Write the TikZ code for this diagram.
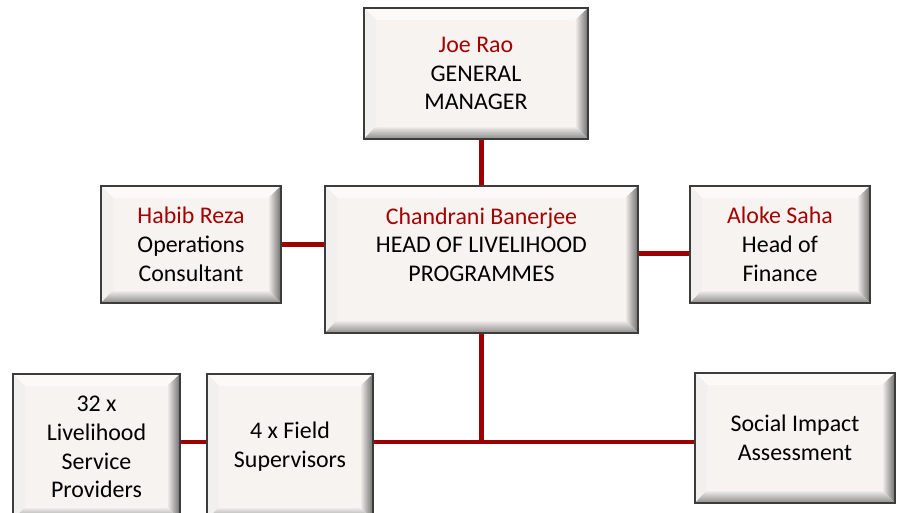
\documentclass[tikz,border=0pt]{standalone}
\usepackage{fontspec}
\setmainfont{Carlito}
\usepackage{tikz}
\usetikzlibrary{
	calc,
	positioning
}
\definecolor{boxface}{HTML}{F6F3F0}
\definecolor{boxedge}{HTML}{3C3C3C}
\definecolor{bevellight}{HTML}{FBFAF9}
\definecolor{beveldark}{HTML}{6E6E6E}
\definecolor{linkred}{HTML}{9C0000}
\definecolor{namered}{HTML}{A50000}
\newcommand{\who}[1]{\textcolor{namered}{#1}}
\tikzset{
	orgbox/.style={
		draw=boxedge,
		line width=1.3pt,
		fill=boxface,
		align=center,
		inner sep=2pt,
		font=\fontsize{13.6}{16.4}\selectfont,
		path picture={
			% bevel round the face
			\fill[bevellight]
				(path picture bounding box.north west) --
				(path picture bounding box.north east) --
				([shift={(-0.24cm,-0.24cm)}]path picture bounding box.north east) --
				([shift={(0.24cm,-0.24cm)}]path picture bounding box.north west) -- cycle;
			\fill[bevellight!92!gray]
				(path picture bounding box.north west) --
				([shift={(0.24cm,-0.24cm)}]path picture bounding box.north west) --
				([shift={(0.24cm,0.24cm)}]path picture bounding box.south west) --
				(path picture bounding box.south west) -- cycle;
			\shade[left color=boxface, right color=beveldark]
				(path picture bounding box.north east) --
				(path picture bounding box.south east) --
				([shift={(-0.26cm,0.26cm)}]path picture bounding box.south east) --
				([shift={(-0.26cm,-0.24cm)}]path picture bounding box.north east) -- cycle;
			\shade[top color=boxface, bottom color=beveldark!80]
				(path picture bounding box.south west) --
				(path picture bounding box.south east) --
				([shift={(-0.26cm,0.26cm)}]path picture bounding box.south east) --
				([shift={(0.24cm,0.26cm)}]path picture bounding box.south west) -- cycle;
		}
	},
	link/.style={
		draw=linkred,
		line width=2.8pt
	}
}

\begin{document}
\begin{tikzpicture}[x=0.02cm,y=-0.02cm]
	\useasboundingbox (0,0) rectangle (898,513);
	\clip (0,0) rectangle (898,513);
	\draw
		node [orgbox,minimum width=4.48cm,minimum height=2.62cm] (gm)    at (476,73.5)
			{\who{Joe Rao}\\GENERAL\\MANAGER}
		node [orgbox,minimum width=6.26cm,minimum height=2.94cm,text depth=17pt] (head) at (481.5,259.5)
			{\who{Chandrani Banerjee}\\HEAD OF LIVELIHOOD\\PROGRAMMES}
		node [orgbox,minimum width=3.6cm,minimum height=2.34cm]  (ops)   at (191,244.5)
			{\who{Habib Reza}\\Operations\\Consultant}
		node [orgbox,minimum width=3.6cm,minimum height=2.34cm]  (fin)   at (780,244.5)
			{\who{Aloke Saha}\\Head of\\Finance}
		node [orgbox,minimum width=3.34cm,minimum height=2.92cm] (lsp)   at (96.5,447)
			{32 x\\Livelihood\\Service\\Providers}
		node [orgbox,minimum width=3.32cm,minimum height=2.92cm] (field) at (290,447)
			{4 x Field\\Supervisors}
		node [orgbox,minimum width=4cm,minimum height=2.6cm]     (sia)   at (795,438)
			{Social Impact\\Assessment};

	\coordinate (jn)      at (481.5,442);
	\coordinate (finlink) at ([yshift=-0.18cm]fin.west);

	\draw [link]
		(head.north)   edge (head.north |- gm.south)
		(ops.east)     edge (ops.east -| head.west)
		(finlink)      edge (finlink -| head.east)
		(head.south)   edge (jn)
		(field.east |- jn) edge (sia.west |- jn)
		(lsp.east |- jn)   edge (field.west |- jn)
	;
\end{tikzpicture}
\end{document}
